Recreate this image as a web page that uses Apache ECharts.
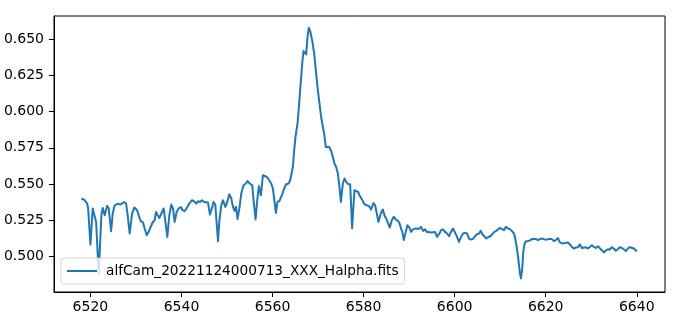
<!DOCTYPE html>
<html>
<head>
<meta charset="utf-8">
<script src="https://cdn.jsdelivr.net/npm/echarts@6/dist/echarts.min.js"></script>
<style>
html,body{margin:0;padding:0;background:#fff;}
#chart{width:677px;height:319px;}
</style>
</head>
<body>
<div id="chart"></div>
<script>
const seriesName = 'alfCam_20221124000713_XXX_Halpha.fits';
const xTicks = [6520, 6540, 6560, 6580, 6600, 6620, 6640];
const yTicks = [0.500, 0.525, 0.550, 0.575, 0.600, 0.625, 0.650];
const wavelength = [
6518.03,6518.75,6519.28,6519.50,6520.00,6520.50,6520.72,6521.25,6521.82,6522.41,
6522.70,6523.14,6523.66,6524.02,6524.54,6524.89,6525.33,6525.64,6526.08,6526.58,
6526.96,6527.39,6527.83,6528.18,6528.62,6529.15,6529.65,6530.25,6530.60,6531.04,
6531.56,6531.91,6532.35,6532.79,6533.23,6533.67,6534.11,6534.41,6534.77,6535.14,
6535.58,6536.08,6536.46,6536.89,6537.33,6537.77,6538.14,6538.50,6538.93,6539.37,
6539.90,6540.25,6540.69,6541.22,6541.72,6542.31,6542.75,6543.26,6543.63,6544.07,
6544.51,6544.95,6545.38,6545.82,6546.26,6546.70,6547.05,6547.42,6548.02,6548.30,
6548.74,6549.11,6549.62,6549.99,6550.50,6550.94,6551.31,6551.66,6551.97,6552.32,
6552.76,6553.13,6553.63,6554.16,6554.51,6554.95,6555.26,6555.54,6555.83,6556.27,
6556.64,6557.01,6557.45,6557.89,6558.24,6558.77,6559.27,6559.71,6560.08,6560.44,
6560.74,6561.09,6561.53,6562.06,6562.56,6563.00,6563.51,6563.88,6564.17,6564.47,
6564.76,6565.04,6565.48,6565.85,6566.23,6566.58,6566.80,6567.17,6567.39,6567.68,
6567.98,6568.33,6568.71,6569.15,6569.58,6569.96,6570.31,6570.68,6571.06,6571.34,
6571.71,6572.06,6572.44,6572.88,6573.25,6573.60,6573.97,6574.35,6574.70,6575.01,
6575.45,6575.80,6576.17,6576.61,6577.05,6577.48,6577.99,6578.36,6578.80,6579.09,
6579.46,6579.74,6580.18,6580.71,6581.21,6581.65,6582.16,6582.53,6582.90,6583.25,
6583.78,6584.22,6584.57,6584.94,6585.32,6585.76,6586.19,6586.63,6587.07,6587.51,
6587.86,6588.23,6588.52,6588.83,6589.27,6589.62,6590.06,6590.43,6590.87,6591.31,
6591.74,6592.18,6592.62,6593.06,6593.50,6593.94,6594.38,6594.82,6595.25,6595.69,
6596.13,6596.57,6597.01,6597.45,6597.89,6598.33,6598.77,6599.20,6599.64,6600.02,
6600.37,6600.67,6600.96,6601.40,6601.84,6602.28,6602.72,6603.15,6603.59,6604.03,
6604.47,6604.91,6605.35,6605.72,6606.07,6606.51,6606.95,6607.39,6607.83,6608.27,
6608.71,6609.15,6609.58,6609.96,6610.39,6610.83,6611.27,6611.71,6612.15,6612.59,
6613.03,6613.31,6613.62,6613.97,6614.34,6614.56,6614.85,6615.07,6615.37,6615.66,
6616.10,6616.54,6616.98,6617.41,6617.85,6618.29,6618.73,6619.17,6619.61,6620.05,
6620.49,6620.92,6621.36,6621.80,6622.24,6622.68,6623.12,6623.56,6624.00,6624.43,
6624.87,6625.31,6625.75,6626.19,6626.63,6627.07,6627.51,6627.95,6628.38,6628.82,
6629.26,6629.70,6630.14,6630.58,6631.02,6631.46,6631.89,6632.33,6632.77,6633.21,
6633.65,6634.09,6634.53,6634.97,6635.40,6635.84,6636.28,6636.72,6637.16,6637.60,
6638.04,6638.48,6638.91,6639.35,6639.79,6640.08
];
const flux = [
0.5399,0.5387,0.5364,0.5330,0.5081,0.5330,0.5334,0.5237,0.4876,0.5283,
0.5334,0.5283,0.5348,0.5330,0.5173,0.5295,0.5352,0.5341,0.5364,0.5357,
0.5364,0.5375,0.5364,0.5283,0.5157,0.5295,0.5337,0.5318,0.5283,0.5242,
0.5233,0.5191,0.5145,0.5168,0.5203,0.5233,0.5249,0.5306,0.5283,0.5265,
0.5295,0.5330,0.5318,0.5133,0.5283,0.5357,0.5330,0.5237,0.5306,0.5330,
0.5339,0.5318,0.5311,0.5337,0.5364,0.5387,0.5380,0.5364,0.5380,0.5375,
0.5387,0.5375,0.5380,0.5371,0.5288,0.5334,0.5375,0.5357,0.5104,0.5237,
0.5352,0.5387,0.5341,0.5368,0.5429,0.5399,0.5341,0.5313,0.5341,0.5256,
0.5341,0.5433,0.5491,0.5503,0.5520,0.5503,0.5514,0.5491,0.5387,0.5254,
0.5387,0.5486,0.5422,0.5560,0.5572,0.5548,0.5525,0.5503,0.5468,0.5375,
0.5299,0.5375,0.5382,0.5422,0.5468,0.5498,0.5503,0.5525,0.5572,0.5617,
0.5733,0.5825,0.5917,0.6055,0.6217,0.6355,0.6419,0.6412,0.6396,0.6516,
0.6581,0.6550,0.6493,0.6401,0.6263,0.6147,0.6055,0.5963,0.5894,0.5848,
0.5755,0.5744,0.5755,0.5728,0.5686,0.5641,0.5617,0.5572,0.5479,0.5375,
0.5503,0.5537,0.5514,0.5498,0.5498,0.5194,0.5456,0.5468,0.5444,0.5422,
0.5410,0.5387,0.5359,0.5352,0.5346,0.5323,0.5368,0.5352,0.5295,0.5237,
0.5295,0.5323,0.5283,0.5261,0.5249,0.5198,0.5249,0.5272,0.5254,0.5244,
0.5230,0.5191,0.5168,0.5111,0.5168,0.5214,0.5198,0.5168,0.5185,0.5191,
0.5187,0.5189,0.5203,0.5175,0.5185,0.5166,0.5168,0.5164,0.5166,0.5168,
0.5133,0.5152,0.5180,0.5185,0.5168,0.5157,0.5138,0.5168,0.5191,0.5180,
0.5145,0.5122,0.5099,0.5133,0.5157,0.5161,0.5157,0.5122,0.5115,0.5120,
0.5138,0.5152,0.5157,0.5175,0.5152,0.5138,0.5122,0.5133,0.5138,0.5152,
0.5168,0.5175,0.5180,0.5196,0.5187,0.5180,0.5203,0.5191,0.5187,0.5173,
0.5157,0.5122,0.5064,0.4984,0.4880,0.4846,0.4915,0.5030,0.5088,0.5104,
0.5104,0.5109,0.5118,0.5126,0.5118,0.5111,0.5118,0.5122,0.5118,0.5113,
0.5118,0.5111,0.5118,0.5104,0.5111,0.5126,0.5095,0.5088,0.5090,0.5081,
0.5095,0.5081,0.5064,0.5053,0.5060,0.5062,0.5081,0.5057,0.5057,0.5062,
0.5053,0.5064,0.5076,0.5064,0.5057,0.5069,0.5064,0.5041,0.5026,0.5039,
0.5048,0.5046,0.5062,0.5053,0.5037,0.5048,0.5062,0.5057,0.5048,0.5035,
0.5053,0.5062,0.5057,0.5053,0.5039,0.5035
];

const FONT = 'DejaVu Sans';
const points = wavelength.map((w, i) => [w, flux[i]]);

const chart = echarts.init(document.getElementById('chart'), null, {renderer: 'canvas'});
chart.setOption({
  animation: false,
  backgroundColor: '#ffffff',
  grid: {
    left: 54, right: 12, top: 16, bottom: 27,
    show: true, borderColor: '#000000', borderWidth: 1, backgroundColor: 'transparent'
  },
  legend: {
    show: true,
    left: 61, top: 258,
    orient: 'horizontal',
    icon: 'rect',
    itemWidth: 30, itemHeight: 2,
    padding: [6, 6, 6, 6],
    backgroundColor: 'rgba(255,255,255,0.8)',
    borderColor: 'rgba(204,204,204,0.8)',
    borderWidth: 1,
    borderRadius: 3,
    textStyle: {fontFamily: FONT, fontSize: 13.7, color: '#000000', padding: [0, 0, 0, 4]},
    data: [seriesName]
  },
  xAxis: {
    type: 'value',
    min: 6512.0, max: 6646.2,
    splitLine: {show: false},
    axisLine: {show: true, onZero: false, lineStyle: {color: '#000', width: 1}},
    axisTick: {show: true, inside: false, length: 5, customValues: xTicks, lineStyle: {color: '#000', width: 1}},
    axisLabel: {
      show: true, customValues: xTicks, margin: 8,
      fontFamily: FONT, fontSize: 14, color: '#000',
      formatter: v => String(v)
    }
  },
  yAxis: {
    type: 'value',
    min: 0.4752, max: 0.6662,
    splitLine: {show: false},
    axisLine: {show: true, onZero: false, lineStyle: {color: '#000', width: 1}},
    axisTick: {show: true, inside: false, length: 5, customValues: yTicks, lineStyle: {color: '#000', width: 1}},
    axisLabel: {
      show: true, customValues: yTicks, margin: 10,
      fontFamily: FONT, fontSize: 14, color: '#000',
      formatter: v => v.toFixed(3)
    }
  },
  series: [{
    name: seriesName,
    type: 'line',
    data: points,
    symbol: 'none',
    showSymbol: false,
    smooth: false,
    clip: true,
    lineStyle: {color: '#1f77b4', width: 2, join: 'round', cap: 'butt'},
    itemStyle: {color: '#1f77b4'},
    z: 2
  }]
});
</script>
</body>
</html>
